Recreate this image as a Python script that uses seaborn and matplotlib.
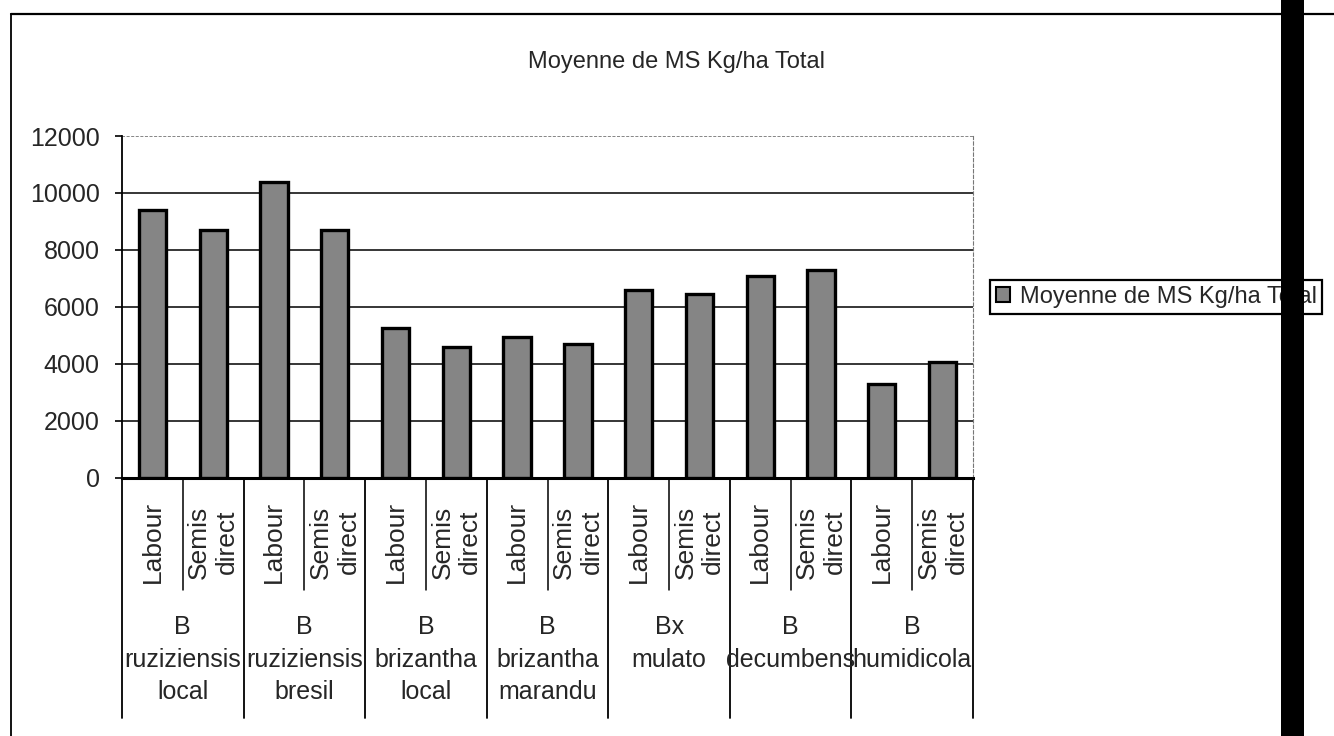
import pandas as pd
import numpy as np
import matplotlib
matplotlib.use('Agg')
import matplotlib.pyplot as plt
import matplotlib.transforms as mtransforms
from matplotlib.patches import Patch, Rectangle
from matplotlib.lines import Line2D
import seaborn as sns

# données
especes = ['B\nruziziensis\nlocal', 'B\nruziziensis\nbresil', 'B\nbrizantha\nlocal',
           'B\nbrizantha\nmarandu', 'Bx\nmulato', 'B\ndecumbens', 'B\nhumidicola']
travail_sol = ['Labour', 'Semis\ndirect']
ms_total = [9400, 8700, 10400, 8700, 5250, 4600, 4950, 4700,
            6600, 6450, 7100, 7300, 3300, 4050]
y_ticks = [0, 2000, 4000, 6000, 8000, 10000, 12000]
titre = 'Moyenne de MS Kg/ha Total'

rows = []
for i, esp in enumerate(especes):
    for j, ts in enumerate(travail_sol):
        rows.append({'barre': f'{i}-{j}', 'espece': esp, 'travail': ts,
                     'valeur': ms_total[2 * i + j]})
df = pd.DataFrame(rows)

sns.set_style('white')
plt.rcParams['font.family'] = ['Liberation Sans', 'DejaVu Sans']

W, H = 1334, 736
fig = plt.figure(figsize=(W / 100, H / 100), dpi=100)
fig.patch.set_facecolor('white')

# zone de tracé (en pixels de la référence)
x0, x1 = 122, 973
y_top, y_bot = 136, 477.7
ax = fig.add_axes([x0 / W, 1 - y_bot / H, (x1 - x0) / W, (y_bot - y_top) / H])

sns.barplot(data=df, x='barre', y='valeur', color='#858585', edgecolor='black',
            linewidth=2.4, width=0.45, ax=ax, errorbar=None, zorder=3)

ax.set_ylim(0, 12000)
ax.set_xlim(-0.5, len(df) - 0.5)
ax.set_yticks(y_ticks)
ax.set_yticklabels([str(v) for v in y_ticks], fontsize=18)
ax.set_xticks([])
ax.set_xlabel('')
ax.set_ylabel('')
ax.tick_params(axis='y', direction='out', length=5, width=1.2, color='black', pad=11, left=True)
for v in y_ticks[1:]:
    ax.axhline(v, color='black', lw=1.1, zorder=1,
               ls=(0, (2, 1)) if v == 12000 else '-', alpha=0.6 if v == 12000 else 1)
ax.spines['top'].set_visible(False)
ax.spines['right'].set_color('#777777')
ax.spines['right'].set_linestyle((0, (3, 2)))
ax.spines['left'].set_color('black')
ax.spines['left'].set_linewidth(1.3)
ax.spines['bottom'].set_color('black')
ax.spines['bottom'].set_linewidth(2.2)

# étiquettes de catégories à deux niveaux (style Excel)
trans = mtransforms.blended_transform_factory(ax.transData, fig.transFigure)
fy = lambda py: 1 - py / H
for k in range(len(df)):
    ax.text(k, fy(542), df['travail'][k], rotation=90, ha='center', va='center',
            ma='center', fontsize=19, transform=trans, linespacing=1.2)
for i, esp in enumerate(especes):
    ax.text(2 * i + 0.5, fy(615), esp, ha='center', va='top', ma='center',
            fontsize=18, transform=trans, linespacing=1.45)
    ax.add_line(Line2D([2 * i + 0.5] * 2, [fy(y_bot), fy(590)], transform=trans,
                       color='black', lw=1.1, clip_on=False))
for xb in np.arange(-0.5, len(df), 2):
    ax.add_line(Line2D([xb] * 2, [fy(y_bot), fy(718)], transform=trans,
                       color='black', lw=1.3, clip_on=False))

# titre
fig.text(677 / W, fy(62), titre, ha='center', va='center', fontsize=17)

# légende
ax.legend(handles=[Patch(facecolor='#858585', edgecolor='black', lw=1.5, label=titre)],
          loc='center left', bbox_to_anchor=(990 / W, fy(297)), bbox_transform=fig.transFigure,
          fontsize=17, frameon=True, fancybox=False, framealpha=1, edgecolor='black',
          borderpad=0.25, handlelength=0.6, handleheight=0.6, handletextpad=0.4,
          borderaxespad=0)
ax.get_legend().get_frame().set_linewidth(1.6)

# cadre du graphique et bande noire du scan
fig.add_artist(Line2D([11 / W, 1], [fy(14), fy(14)], color='black', lw=1.6))
fig.add_artist(Line2D([11 / W, 11 / W], [fy(14), 0], color='black', lw=1.3))
fig.add_artist(Rectangle((1281 / W, 0), 23 / W, 1, transform=fig.transFigure,
                         facecolor='black', edgecolor='none', zorder=10))

fig.savefig('out.png', dpi=100)
